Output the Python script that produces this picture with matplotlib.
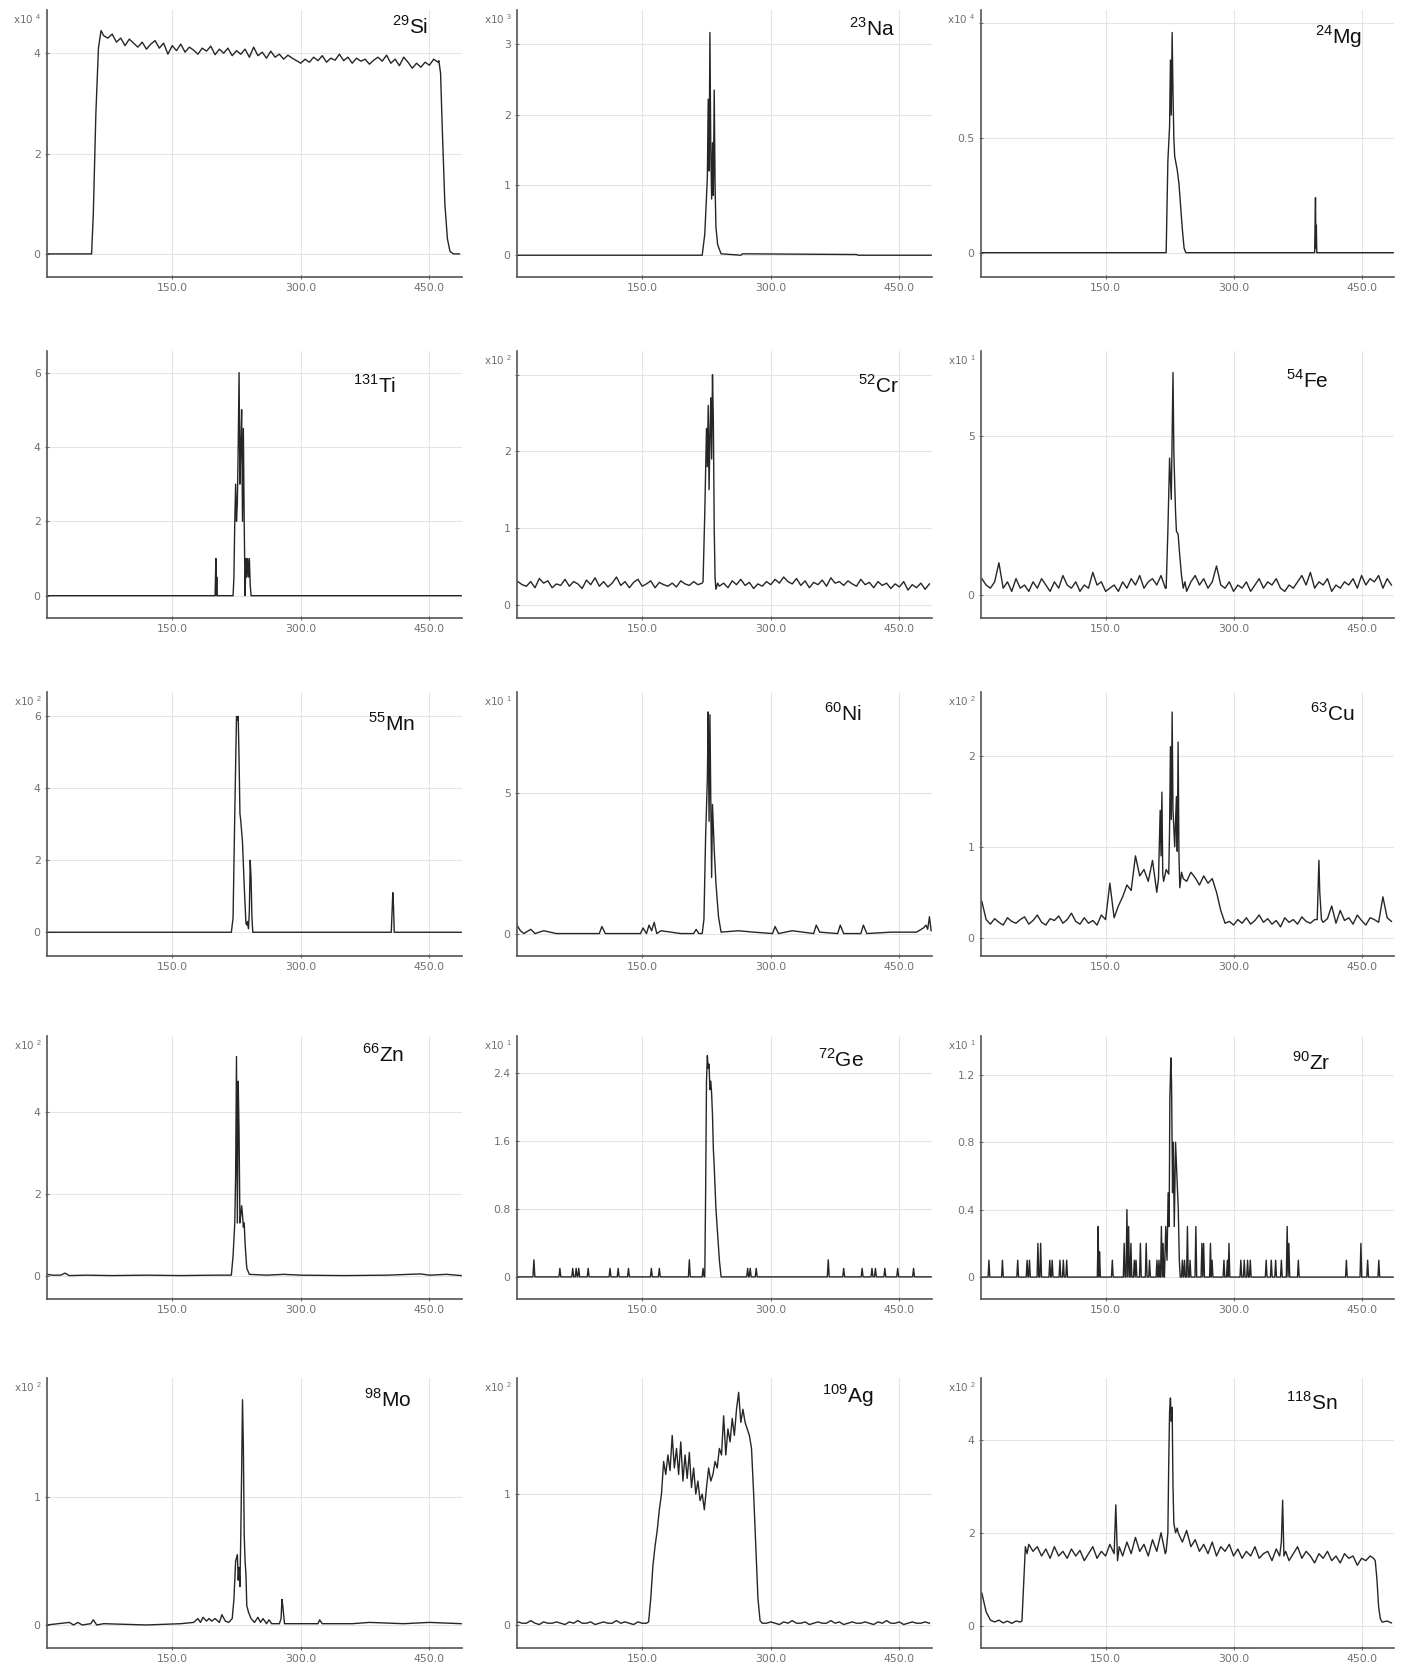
import numpy as np
import matplotlib
matplotlib.use('Agg')
import matplotlib.pyplot as plt

plt.rcParams['font.family'] = ['Liberation Sans', 'DejaVu Sans']
plt.rcParams['mathtext.fontset'] = 'custom'
plt.rcParams['mathtext.rm'] = 'Liberation Sans'

# time grid (s) used by the noisy traces
grid_t = np.arange(5, 490, 5)

# ---- 29Si (x10^4)
si_y = [0, 0, 0, 0, 0, 0, 0, 0, 0, 0, 0, 2.8, 4.3,
        4.42, 4.30, 4.38, 4.22, 4.30, 4.15, 4.28, 4.20, 4.12, 4.22, 4.08, 4.18, 4.25, 4.10, 4.20, 3.98,
        4.15, 4.05, 4.18, 4.02, 4.12, 4.06, 3.98, 4.10, 4.04, 4.14, 3.97, 4.08, 4.00, 4.10, 3.95, 4.05,
        3.98, 4.08, 3.92, 4.12, 3.95, 4.02, 3.90, 4.04, 3.92, 3.98, 3.88, 3.96, 3.90, 3.85, 3.80, 3.88,
        3.82, 3.92, 3.85, 3.95, 3.82, 3.90, 3.86, 3.98, 3.85, 3.92, 3.80, 3.90, 3.84, 3.88, 3.78, 3.86,
        3.92, 3.84, 3.96, 3.80, 3.88, 3.75, 3.92, 3.82, 3.70, 3.80, 3.72, 3.82, 3.76, 3.88, 3.82,
        2.5, 0.2, 0, 0, 0]
si_rise_x = [56, 58, 61, 64, 67, 70]
si_rise_y = [0, 0.8, 2.8, 4.1, 4.45, 4.35]
si_fall_x = [461, 463, 465, 468, 471, 474, 478]
si_fall_y = [3.85, 3.6, 2.5, 1.0, 0.3, 0.05, 0]

# ---- 23Na (x10^3)
na_x = [4, 220, 223, 226, 227, 228, 229, 230, 231, 232, 233, 234, 235, 236, 238, 242, 265, 267, 400, 402, 487]
na_y = [0, 0, 0.3, 1.1, 2.22, 1.2, 3.17, 1.5, 0.8, 1.6, 0.85, 2.35, 1.0, 0.4, 0.15, 0.02, 0.0, 0.02, 0.01, 0, 0]

# ---- 24Mg (x10^4)
mg_x = [4, 221, 223, 225, 226, 227, 228, 229, 230, 231, 232, 233, 234, 236, 238, 240, 242, 244,
        395, 396, 396.5, 397, 397.5, 487]
mg_y = [0, 0, 0.4, 0.55, 0.84, 0.6, 0.96, 0.7, 0.5, 0.42, 0.40, 0.38, 0.36, 0.30, 0.2, 0.1, 0.02, 0,
        0, 0.24, 0.02, 0.12, 0, 0]

# ---- 131Ti
ti_x = [4, 200, 201, 201.5, 202, 202.5, 203, 221, 222, 223, 224, 225, 226, 227, 228, 229, 230, 231,
        232, 233, 234, 235, 236, 237, 238, 239, 240, 241, 242, 487]
ti_y = [0, 0, 1, 0, 0.5, 0, 0, 0, 0.5, 2, 3, 2, 2.5, 4, 6, 3, 4, 5,
        2, 4.5, 2, 0, 1, 0.5, 1, 0.5, 1, 0.3, 0, 0]

# ---- 52Cr (x10^2)
cr_y = [0.30, 0.26, 0.24, 0.30, 0.22, 0.34, 0.28, 0.31, 0.22, 0.27,
        0.25, 0.33, 0.24, 0.30, 0.27, 0.21, 0.32, 0.26, 0.35, 0.24,
        0.30, 0.23, 0.28, 0.36, 0.25, 0.30, 0.22, 0.29, 0.33, 0.24,
        0.27, 0.31, 0.22, 0.29, 0.26, 0.24, 0.28, 0.23, 0.31, 0.27,
        0.25, 0.30, 0.26, 0.28,
        2.0, 2.5, 0.5,
        0.24, 0.28, 0.22, 0.31, 0.26, 0.33, 0.25, 0.29, 0.21, 0.27,
        0.24, 0.30, 0.26, 0.33, 0.28, 0.36, 0.30, 0.27, 0.34, 0.25,
        0.31, 0.22, 0.29, 0.26, 0.32, 0.24, 0.35, 0.28, 0.30, 0.25,
        0.31, 0.27, 0.24, 0.33, 0.26, 0.29, 0.22, 0.30, 0.25, 0.28,
        0.21, 0.27, 0.23, 0.30, 0.19, 0.26, 0.22, 0.28, 0.20, 0.27]
cr_peak_x = [221, 223, 225, 226, 227, 228, 229, 230, 231, 232, 233, 234, 235, 236, 238]
cr_peak_y = [0.3, 1.2, 2.3, 1.8, 2.6, 1.5, 2.2, 2.7, 1.9, 3.0, 2.4, 1.0, 0.35, 0.2, 0.28]

# ---- 54Fe (x10^1)
fe_y = [0.5, 0.3, 0.2, 0.4, 1.0, 0.2, 0.4, 0.1, 0.5, 0.2,
        0.3, 0.1, 0.4, 0.2, 0.5, 0.3, 0.1, 0.4, 0.2, 0.6,
        0.3, 0.2, 0.4, 0.1, 0.3, 0.2, 0.7, 0.3, 0.4, 0.1,
        0.2, 0.3, 0.1, 0.4, 0.2, 0.5, 0.3, 0.6, 0.2, 0.4,
        0.5, 0.3, 0.6, 0.2,
        4.0, 3.0, 1.9,
        0.3, 0.1, 0.4, 0.6, 0.3, 0.5, 0.2, 0.4, 0.9, 0.3,
        0.2, 0.4, 0.1, 0.3, 0.2, 0.4, 0.1, 0.3, 0.5, 0.2,
        0.4, 0.3, 0.5, 0.2, 0.1, 0.3, 0.2, 0.4, 0.6, 0.3,
        0.7, 0.2, 0.4, 0.3, 0.5, 0.1, 0.3, 0.2, 0.4, 0.3,
        0.5, 0.2, 0.6, 0.3, 0.5, 0.4, 0.6, 0.2, 0.5, 0.3]
fe_peak_x = [221, 223, 225, 227, 228, 229, 230, 231, 232, 233, 235, 237, 239, 241, 243]
fe_peak_y = [0.2, 2.0, 4.3, 3.0, 5.0, 7.0, 4.5, 3.5, 2.6, 2.0, 1.9, 1.2, 0.6, 0.2, 0.4]

# ---- 55Mn (x10^2)
mn_x = [4, 219, 221, 223, 225, 226, 227, 228, 229, 230, 232, 234, 236, 237, 238, 239, 240, 241,
        242, 243, 244, 405.5, 406.5, 407.3, 408, 409, 487]
mn_y = [0, 0, 0.4, 3.3, 6.0, 5.9, 6.0, 4.8, 3.3, 3.1, 2.5, 1.3, 0.25, 0.2, 0.3, 0.1, 0.6, 2.0,
        1.5, 0.4, 0, 0, 0.6, 1.1, 0.8, 0, 0]

# ---- 60Ni (x10^1)
ni_x = [4, 8, 12, 20, 25, 35, 50, 100, 103, 107, 148, 151, 155, 158, 161, 164, 167, 172,
        195, 210, 213, 216, 220, 222, 224, 226, 227, 228, 229, 230, 231, 232, 234, 236, 239, 242,
        262, 280, 302, 305, 309, 325, 350, 353, 357, 378, 381, 385, 405, 408, 412, 440, 470,
        478, 481, 483, 485, 487]
ni_y = [0.3, 0.1, 0, 0.15, 0, 0.1, 0, 0, 0.25, 0, 0, 0.2, 0, 0.3, 0.1, 0.4, 0, 0.1,
        0, 0, 0.15, 0, 0, 0.5, 3.5, 5.5, 7.9, 4.0, 7.8, 4.8, 2.0, 4.6, 3.0, 1.8, 0.6, 0.05,
        0.1, 0.05, 0, 0.25, 0, 0.1, 0, 0.3, 0.05, 0, 0.3, 0, 0, 0.3, 0, 0.05, 0.05,
        0.2, 0.3, 0.15, 0.6, 0.1]

# ---- 63Cu (x10^2)
cu_y = [0.40, 0.20, 0.15, 0.21, 0.17, 0.14, 0.22, 0.18, 0.16, 0.20,
        0.23, 0.15, 0.19, 0.25, 0.17, 0.14, 0.21, 0.19, 0.24, 0.16,
        0.20, 0.27, 0.18, 0.15, 0.22, 0.16, 0.19, 0.14, 0.25, 0.20,
        0.60, 0.22, 0.35, 0.45, 0.58, 0.52, 0.90, 0.68, 0.75, 0.62,
        0.85, 0.50, 0.80, 0.65, 0.70, 0.90, 2.00, 0.70, 0.62, 0.72,
        0.66, 0.58, 0.68, 0.60, 0.65, 0.50, 0.30, 0.16,
        0.18, 0.14, 0.20, 0.16, 0.22, 0.15, 0.19, 0.25, 0.17, 0.21,
        0.15, 0.19, 0.12, 0.22, 0.17, 0.20, 0.15, 0.23, 0.18, 0.16,
        0.20, 0.24, 0.17, 0.21, 0.35, 0.16, 0.30, 0.19, 0.22, 0.15,
        0.25, 0.19, 0.14, 0.22, 0.20, 0.17, 0.45, 0.22, 0.18]
cu_peak_x = [212, 214, 215, 216, 217, 218, 221, 224, 225, 226, 227, 228, 229, 231, 233, 234, 235,
             236, 237, 239, 241]
cu_peak_y = [0.65, 1.4, 0.9, 1.6, 0.7, 0.62, 0.75, 0.7, 1.2, 2.1, 1.3, 2.48, 1.4, 1.0, 1.55, 0.95, 2.15,
             0.9, 0.55, 0.72, 0.65]
cu_spike_x = [398, 400, 401, 403]
cu_spike_y = [0.2, 0.85, 0.5, 0.2]

# ---- 66Zn (x10^2)
zn_x = [4, 10, 20, 25, 30, 50, 80, 120, 160, 200, 219, 221, 223, 224, 225, 226, 227, 228, 229,
        230, 231, 232, 233, 234, 235, 237, 240, 260, 280, 300, 350, 400, 440, 450, 470, 487]
zn_y = [0.05, 0.03, 0.03, 0.08, 0.02, 0.03, 0.02, 0.03, 0.02, 0.03, 0.03, 0.5, 1.3, 2.5, 5.35, 1.3,
        4.75, 3.5, 1.3, 1.5, 1.72, 1.5, 1.2, 1.3, 0.8, 0.2, 0.05, 0.03, 0.05, 0.03, 0.02, 0.03,
        0.06, 0.03, 0.05, 0.02]

# ---- 72Ge (x10^1)
ge_blip_t = [23.7, 54, 69, 73, 76, 87, 112.5, 122, 134, 160.7, 170, 205, 221, 273, 276, 283,
             367, 385, 406.5, 418, 422, 433, 448, 466.5]
ge_blip_h = [0.2, 0.1, 0.1, 0.1, 0.1, 0.1, 0.1, 0.1, 0.1, 0.1, 0.1, 0.2, 0.1, 0.1, 0.1, 0.1,
             0.2, 0.1, 0.1, 0.1, 0.1, 0.1, 0.1, 0.1]
ge_peak_x = [223, 224, 225, 226, 227, 228, 229, 230, 231, 232, 233, 234, 236, 238, 240, 242]
ge_peak_y = [0, 1.0, 2.3, 2.6, 2.45, 2.5, 2.2, 2.3, 2.15, 1.9, 1.5, 1.3, 0.8, 0.5, 0.2, 0]

# ---- 90Zr (x10^1)
zr_blip_t = [13.3, 29.1, 47, 58, 60.8, 70.7, 73.9, 84.6, 87.4, 96.5, 100.5, 104.4, 141.3, 142.9,
             157.9, 171.8, 175, 177, 179.7, 183.7, 185.7, 190.8, 197.6, 201.5, 210.2, 212.6, 215.4,
             217.4, 240, 242.5, 245.9, 249, 255.8, 262.9, 264.9, 272.9, 274.8, 288.7, 292.7, 294.6,
             308.5, 312.5, 316.4, 319.6, 338.2, 344.2, 349.3, 356, 362.8, 364.8, 375.9, 432.2,
             449.2, 457.1, 470.2]
zr_blip_h = [0.1, 0.1, 0.1, 0.1, 0.1, 0.2, 0.2, 0.1, 0.1, 0.1, 0.1, 0.1, 0.3, 0.15,
             0.1, 0.2, 0.4, 0.3, 0.2, 0.1, 0.1, 0.2, 0.2, 0.1, 0.1, 0.1, 0.3,
             0.2, 0.1, 0.1, 0.3, 0.1, 0.3, 0.2, 0.2, 0.2, 0.1, 0.1, 0.1, 0.2,
             0.1, 0.1, 0.1, 0.1, 0.1, 0.1, 0.1, 0.1, 0.3, 0.2, 0.1, 0.1,
             0.2, 0.1, 0.1]
zr_peak_x = [219, 220.5, 222, 223.3, 224.5, 225.3, 226.5, 227.3, 228.5, 229.3, 230.5, 232, 233.2,
             235.2, 236.4, 237.5]
zr_peak_y = [0, 0.3, 0.1, 0.5, 0.3, 1.05, 1.3, 1.15, 0.5, 0.8, 0.3, 0.8, 0.65, 0.4, 0.1, 0]

# ---- 98Mo (x10^2)
mo_x = [4, 30, 35, 40, 45, 55, 58, 62, 70, 120, 160, 175, 180, 183, 186, 190, 193, 196, 200, 205,
        208, 212, 216, 220, 222, 224, 226, 227, 228, 229, 230, 231, 232, 233, 234, 235, 236, 237,
        239, 242, 246, 250, 253, 256, 260, 263, 266, 270, 275, 277, 278, 279, 281, 300, 320, 322,
        325, 360, 380, 420, 450, 487]
mo_y = [0, 0.02, 0, 0.02, 0, 0.01, 0.04, 0, 0.01, 0, 0.01, 0.02, 0.05, 0.02, 0.06, 0.03, 0.05,
        0.03, 0.05, 0.02, 0.08, 0.03, 0.02, 0.05, 0.2, 0.5, 0.55, 0.35, 0.45, 0.3, 0.7, 1.2, 1.76,
        1.4, 0.7, 0.5, 0.4, 0.15, 0.1, 0.05, 0.02, 0.06, 0.02, 0.05, 0.01, 0.04, 0.01, 0.01, 0.01,
        0.05, 0.2, 0.15, 0.01, 0.01, 0.01, 0.04, 0.01, 0.01, 0.02, 0.01, 0.02, 0.01]

# ---- 109Ag (x10^2)
ag_y = [0.02, 0.01, 0.01, 0.03, 0.01, 0.00, 0.02, 0.01, 0.01, 0.02,
        0.01, 0.00, 0.02, 0.01, 0.03, 0.01, 0.01, 0.02, 0.00, 0.01,
        0.02, 0.01, 0.01, 0.03, 0.01, 0.02, 0.01, 0.00, 0.02, 0.01,
        0.01, 0.45, 0.88, 1.25, 1.3, 1.45, 1.35, 1.4, 1.3, 1.32,
        1.2, 1.1, 1.0, 0.88, 1.2, 1.1, 1.25, 1.35, 1.6, 1.5,
        1.58, 1.65, 1.55, 1.55, 1.45, 1.0, 0.2, 0.01,
        0.01, 0.02, 0.01, 0.00, 0.02, 0.01, 0.03, 0.01, 0.01, 0.02,
        0.00, 0.01, 0.02, 0.01, 0.01, 0.03, 0.01, 0.02, 0.00, 0.01,
        0.02, 0.01, 0.01, 0.02, 0.01, 0.00, 0.02, 0.01, 0.03, 0.01,
        0.01, 0.02, 0.00, 0.01, 0.02, 0.01, 0.01, 0.02, 0.01]
ag_hump_x = np.arange(155, 290.1, 2.5)
ag_hump_y = [0.01, 0.02, 0.2, 0.45, 0.6, 0.72, 0.88, 1.0, 1.25, 1.15,
             1.3, 1.18, 1.45, 1.2, 1.35, 1.15, 1.4, 1.1, 1.3, 1.12,
             1.32, 1.05, 1.2, 1.0, 1.1, 0.95, 1.0, 0.88, 1.05, 1.2,
             1.1, 1.15, 1.25, 1.2, 1.35, 1.3, 1.6, 1.3, 1.5, 1.4,
             1.58, 1.45, 1.65, 1.78, 1.55, 1.65, 1.55, 1.5, 1.45, 1.35,
             1.0, 0.6, 0.2, 0.03, 0.01]

# ---- 118Sn (x10^2)
sn_y = [0.7, 0.3, 0.12, 0.08, 0.12, 0.06, 0.1, 0.05, 0.1, 0.08,
        1.6, 1.75, 1.6, 1.7, 1.5, 1.65, 1.45, 1.7, 1.5, 1.6,
        1.45, 1.65, 1.5, 1.62, 1.4, 1.55, 1.7, 1.45, 1.6, 1.5,
        1.75, 1.55, 1.7, 1.5, 1.8, 1.55, 1.9, 1.6, 1.75, 1.5,
        1.85, 1.6, 2.0, 1.55, 4.5, 2.2, 2.0, 1.8, 2.05, 1.7,
        1.85, 1.6, 1.75, 1.55, 1.8, 1.5, 1.7, 1.6, 1.75, 1.5,
        1.65, 1.45, 1.6, 1.5, 1.7, 1.45, 1.55, 1.6, 1.4, 1.65,
        1.5, 1.6, 1.4, 1.55, 1.7, 1.45, 1.6, 1.5, 1.35, 1.55,
        1.45, 1.6, 1.4, 1.5, 1.35, 1.55, 1.45, 1.5, 1.3, 1.45,
        1.4, 1.5, 1.35, 0.3, 0.08, 0.1, 0.06]
sn_rise_x = [50, 52, 54, 56, 58]
sn_rise_y = [0.08, 0.1, 0.9, 1.7, 1.55]
sn_spike1_x = [160, 162, 163, 164, 166]
sn_spike1_y = [1.55, 2.6, 2.0, 1.4, 1.7]
sn_peak_x = [221, 223, 224, 225, 226, 227, 228, 229, 230, 232, 234]
sn_peak_y = [1.6, 2.0, 3.5, 4.6, 4.9, 4.4, 4.7, 3.0, 2.2, 2.0, 2.1]
sn_spike2_x = [354, 356, 357.5, 359, 361]
sn_spike2_y = [1.5, 1.8, 2.7, 1.5, 1.6]
sn_fall_x = [464, 466, 468, 470, 472, 474]
sn_fall_y = [1.45, 1.4, 1.0, 0.4, 0.15, 0.08]


def merge(gx, gy, *segs):
    # replace grid samples inside each detailed segment by the segment itself
    x = np.asarray(gx, dtype=float)
    y = np.asarray(gy, dtype=float)
    for sx, sy in segs:
        keep = (x < sx[0]) | (x > sx[-1])
        x = np.concatenate([x[keep], sx])
        y = np.concatenate([y[keep], sy])
        o = np.argsort(x, kind='stable')
        x, y = x[o], y[o]
    return x, y


def blips(centers, heights, peak_x, peak_y, w=1.1):
    xs = [4, 487]
    ys = [0, 0]
    for c, h in zip(centers, heights):
        xs += [c - w, c, c + w]
        ys += [0, h, 0]
    xs += list(peak_x)
    ys += list(peak_y)
    xs = np.array(xs, dtype=float)
    ys = np.array(ys, dtype=float)
    o = np.argsort(xs, kind='stable')
    return xs[o], ys[o]


si = merge(grid_t, si_y, (si_rise_x, si_rise_y), (si_fall_x, si_fall_y))
cr = merge(grid_t, cr_y, (cr_peak_x, cr_peak_y))
fe = merge(grid_t, fe_y, (fe_peak_x, fe_peak_y))
cu = merge(grid_t, cu_y, (cu_peak_x, cu_peak_y), (cu_spike_x, cu_spike_y))
ge = blips(ge_blip_t, ge_blip_h, ge_peak_x, ge_peak_y)
zr = blips(zr_blip_t, zr_blip_h, zr_peak_x, zr_peak_y, w=1.0)
ag = merge(grid_t, ag_y, (ag_hump_x, ag_hump_y))
sn = merge(grid_t, sn_y, (sn_rise_x, sn_rise_y), (sn_spike1_x, sn_spike1_y),
           (sn_peak_x, sn_peak_y), (sn_spike2_x, sn_spike2_y), (sn_fall_x, sn_fall_y))

panels = [
    ('29', 'Si', si, 4, (-0.46, 4.86), [0, 2, 4], None, (0.875, 0.94)),
    ('23', 'Na', (na_x, na_y), 3, (-0.31, 3.49), [0, 1, 2, 3], None, (0.855, 0.93)),
    ('24', 'Mg', (mg_x, mg_y), 4, (-0.106, 1.058), [0, 0.5, 1.0], ['0', '0.5', ''], (0.865, 0.90)),
    ('131', 'Ti', (ti_x, ti_y), None, (-0.6, 6.58), [0, 2, 4, 6], None, (0.79, 0.87)),
    ('52', 'Cr', cr, 2, (-0.175, 3.31), [0, 1, 2, 3], ['0', '1', '2', ''], (0.87, 0.87)),
    ('54', 'Fe', fe, 1, (-0.74, 7.68), [0, 5], None, (0.79, 0.89)),
    ('55', 'Mn', (mn_x, mn_y), 2, (-0.66, 6.68), [0, 2, 4, 6], None, (0.83, 0.88)),
    ('60', 'Ni', (ni_x, ni_y), 1, (-0.8, 8.61), [0, 5], None, (0.785, 0.92)),
    ('63', 'Cu', cu, 2, (-0.2, 2.70), [0, 1, 2], None, (0.85, 0.92)),
    ('66', 'Zn', (zn_x, zn_y), 2, (-0.55, 5.85), [0, 2, 4], None, (0.81, 0.93)),
    ('72', 'Ge', ge, 1, (-0.26, 2.83), [0, 0.8, 1.6, 2.4], None, (0.78, 0.91)),
    ('90', 'Zr', zr, 1, (-0.13, 1.43), [0, 0.4, 0.8, 1.2], None, (0.80, 0.90)),
    ('98', 'Mo', (mo_x, mo_y), 2, (-0.18, 1.93), [0, 1], None, (0.82, 0.92)),
    ('109', 'Ag', ag, 2, (-0.18, 1.89), [0, 1], None, (0.797, 0.935)),
    ('118', 'Sn', sn, 2, (-0.48, 5.33), [0, 2, 4], None, (0.80, 0.91)),
]

W, H = 1408, 1673
col_left = [47, 517, 981]
col_width = [415, 415, 413]
row_top = [10, 351, 692, 1036, 1378]
row_bottom = [277, 618, 956, 1299, 1648]

fig = plt.figure(figsize=(W / 100, H / 100), dpi=100)

for i, (mass, elem, (tx, ty), expo, ylim, yt, ytl, lab) in enumerate(panels):
    r, c = divmod(i, 3)
    l, w = col_left[c], col_width[c]
    t, b = row_top[r], row_bottom[r]
    ax = fig.add_axes([l / W, 1 - b / H, w / W, (b - t) / H])
    ax.plot(tx, ty, color='#262626', lw=1.0)
    ax.set_xlim(4, 488)
    ax.set_ylim(*ylim)
    ax.set_xticks([150, 300, 450])
    ax.set_xticklabels(['150.0', '300.0', '450.0'])
    ax.set_yticks(yt)
    if ytl is not None:
        ax.set_yticklabels(ytl)
    else:
        ax.set_yticklabels([('%g' % v) for v in yt])
    ax.grid(True, color='#e4e4e4', lw=0.8)
    ax.set_axisbelow(True)
    for s in ['top', 'right']:
        ax.spines[s].set_visible(False)
    for s in ['left', 'bottom']:
        ax.spines[s].set_color('#555555')
        ax.spines[s].set_linewidth(1.2)
    ax.tick_params(axis='both', labelsize=7.8, colors='#707070', length=3,
                   direction='inout', width=0.8, pad=3, labelfontfamily='DejaVu Sans')
    ax.text(lab[0], lab[1], r'$^{%s}$%s' % (mass, elem), transform=ax.transAxes,
            ha='center', va='center', fontsize=15, color='#111111')
    if expo is not None:
        ax.text(-0.012, 0.965, r'x10 $^{%d}$' % expo, transform=ax.transAxes,
                ha='right', va='center', fontsize=7.5, color='#707070', family='DejaVu Sans')

fig.savefig('out.png', dpi=100, facecolor='white')
